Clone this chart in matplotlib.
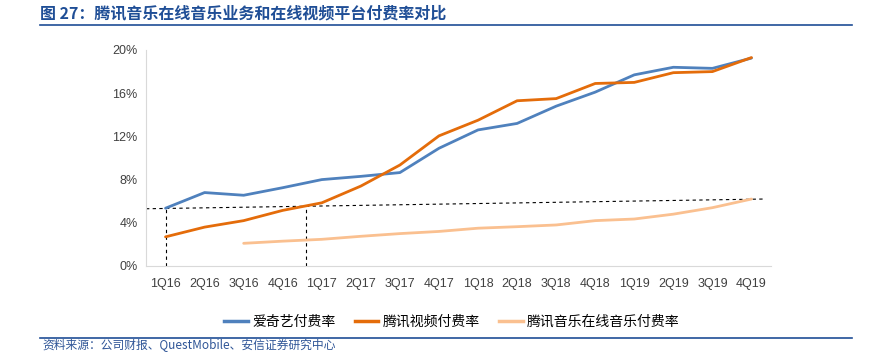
import matplotlib
matplotlib.use("Agg")
import matplotlib.pyplot as plt
from matplotlib.lines import Line2D

plt.rcParams['font.family'] = ['Liberation Sans', 'Noto Sans CJK SC', 'DejaVu Sans']

quarters = ["1Q16", "2Q16", "3Q16", "4Q16", "1Q17", "2Q17", "3Q17", "4Q17",
            "1Q18", "2Q18", "3Q18", "4Q18", "1Q19", "2Q19", "3Q19", "4Q19"]
iqiyi = [5.35, 6.8, 6.55, 7.25, 8.0, 8.3, 8.65, 10.9, 12.6, 13.2, 14.8, 16.1, 17.7, 18.4, 18.3, 19.25]
tencent_video = [2.7, 3.6, 4.2, 5.15, 5.85, 7.4, 9.35, 12.05, 13.5, 15.3, 15.5, 16.9, 17.0, 17.9, 18.0, 19.3]
tme_music = [None, None, 2.1, 2.3, 2.47, 2.75, 3.0, 3.2, 3.5, 3.64, 3.8, 4.2, 4.35, 4.8, 5.4, 6.2]
series_names = ["爱奇艺付费率", "腾讯视频付费率", "腾讯音乐在线音乐付费率"]
ref_line_x = [-0.5, 15.3]
ref_line_y = [5.3, 6.2]
vline_x = [0, 3.6]
vline_top = [5.35, 5.55]
yticks = [0, 4, 8, 12, 16, 20]

colors = ["#4F81BD", "#E46C0A", "#FAC090"]

fig = plt.figure(figsize=(8.92, 3.52), dpi=100)
ax = fig.add_axes([146/892, 1-266/352, 625/892, 216/352])

x = list(range(len(quarters)))
for vals, c, name in zip([iqiyi, tencent_video, tme_music], colors, series_names):
    xs = [i for i, v in zip(x, vals) if v is not None]
    ys = [v for v in vals if v is not None]
    ax.plot(xs, ys, color=c, lw=2.0, solid_capstyle='round', label=name, zorder=3)

ax.plot(ref_line_x, ref_line_y, color='black', lw=0.8, ls=(0, (3, 3)), zorder=2)
for vx, vt in zip(vline_x, vline_top):
    ax.plot([vx, vx], [0, vt], color='black', lw=0.8, ls=(0, (3, 3)), zorder=2)

ax.set_xlim(-0.5, 15.5)
ax.set_ylim(0, 20)
ax.set_yticks(yticks)
ax.set_yticklabels([f"{t}%" for t in yticks], fontsize=9, color='#404040')
ax.set_xticks(x)
ax.set_xticklabels(quarters, fontsize=9, color='#404040')
ax.tick_params(axis='both', length=0, pad=6)
ax.tick_params(axis='x', pad=9)
for s in ['top', 'right']:
    ax.spines[s].set_visible(False)
ax.spines['left'].set_color('#D9D9D9')
ax.spines['bottom'].set_color('#D9D9D9')

handles = [Line2D([0], [0], color=c, lw=2.5) for c in colors]
fig.legend(handles, series_names, loc='center', bbox_to_anchor=(452/892, 1-322/352),
           ncol=3, frameon=False, handlelength=1.7, handletextpad=0.3,
           columnspacing=1.4, prop={'family': ['Noto Sans CJK SC'], 'size': 10})

title_color = '#1F4E96'
fig.text(40/892, 1-13/352, "图 27：腾讯音乐在线音乐业务和在线视频平台付费率对比", fontsize=11.5,
         fontweight='bold', color=title_color, va='center', ha='left',
         family=['Noto Sans CJK SC', 'DejaVu Sans'])
fig.add_artist(Line2D([40/892, 852/892], [1-24.5/352, 1-24.5/352], color='#1F4E96', lw=1.2))
fig.add_artist(Line2D([40/892, 852/892], [1-338/352, 1-338/352], color='#1F4E96', lw=1.2))
fig.text(42/892, 1-345.5/352, "资料来源：公司财报、QuestMobile、安信证券研究中心", fontsize=8.5,
         style='italic', color='#2F5597', va='center', ha='left',
         family=['Noto Sans CJK SC', 'DejaVu Sans'])

fig.savefig("out.png", dpi=100)
